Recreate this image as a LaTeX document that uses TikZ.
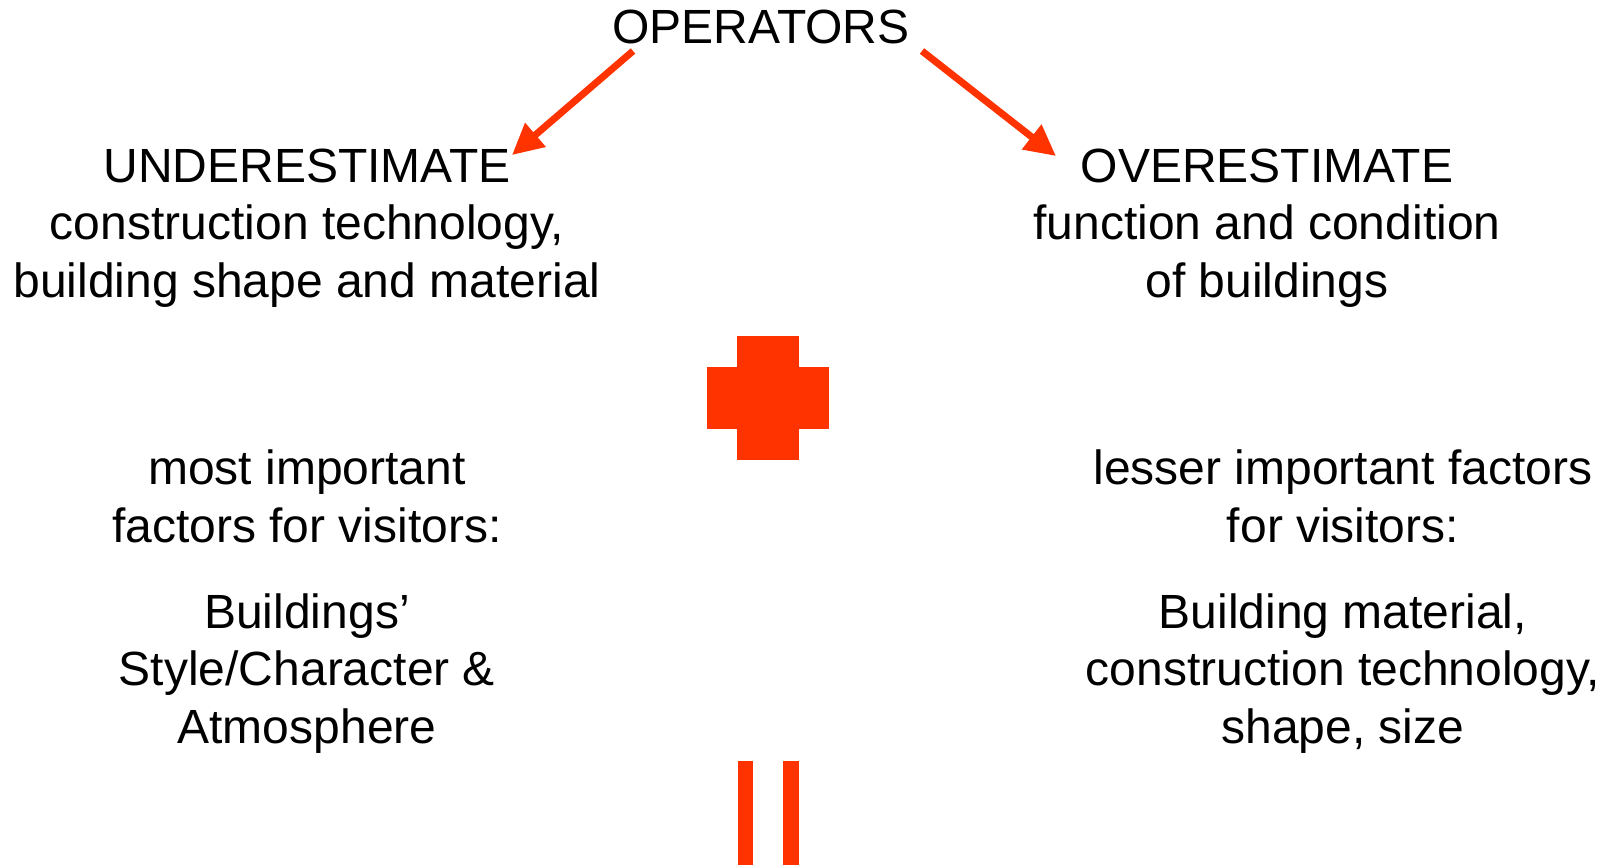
\documentclass[tikz,border=0pt]{standalone}
\usepackage{fontspec}
\setmainfont{Liberation Sans}
\usetikzlibrary{arrows.meta}
\definecolor{opred}{HTML}{FF3300}
\tikzset{
  txt/.style={align=center, inner sep=0pt, anchor=base, font=\fontsize{48}{57.5}\selectfont},
  redarrow/.style={draw=opred, line width=7pt, -{Triangle[length=31pt,width=30pt]}},
}
\begin{document}
\begin{tikzpicture}[x=1pt, y=-1pt]
        \useasboundingbox (0,0) rectangle (1607,865);
        \node[txt] (op) at (761,43) {OPERATORS};
        \node[txt] (under) at (307,297) {UNDERESTIMATE\\construction technology,\\building shape and material};
        \node[txt] (over) at (1267,297) {OVERESTIMATE\\function and condition\\of buildings};
        \node[txt] (most) at (307,542) {most important\\factors for visitors:};
        \node[txt] (style) at (307,743) {Buildings'\\Style/Character \&\\Atmosphere};
        \node[txt] (lesser) at (1343,542) {lesser important factors\\for visitors:};
        \node[txt] (material) at (1343,743) {Building material,\\construction technology,\\shape, size};
        \coordinate (opL) at (633,51);
        \coordinate (opR) at (922,51);
        \coordinate (underTip) at (512,155);
        \coordinate (overTip) at (1056,156);
        \draw[redarrow] (opL) -- (underTip);
        \draw[redarrow] (opR) -- (overTip);
        \fill[opred] (737,336) rectangle (799,460);
        \fill[opred] (707,367) rectangle (829,429);
        \fill[opred] (738,761) rectangle (753,865);
        \fill[opred] (783,761) rectangle (799,865);
    \end{tikzpicture}
\end{document}
